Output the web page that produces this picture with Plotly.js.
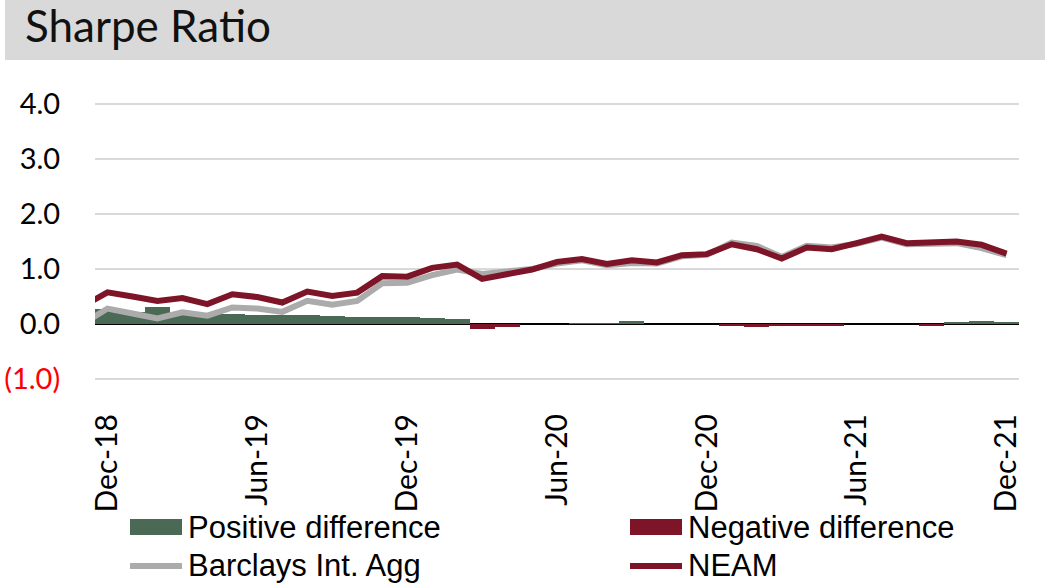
<!DOCTYPE html>
<html>
<head>
<meta charset="utf-8">
<script src="https://cdn.plot.ly/plotly-3.0.1.min.js"></script>
<style>html,body{margin:0;padding:0;background:#fff;}#chart{width:1045px;height:586px;}</style>
</head>
<body>
<div id="chart"></div>
<script>
// Monthly categories (Nov-18 lies just left of the visible range; the line enters from it)
const months = ['Nov-18','Dec-18','Jan-19','Feb-19','Mar-19','Apr-19','May-19','Jun-19','Jul-19','Aug-19','Sep-19','Oct-19','Nov-19','Dec-19',
  'Jan-20','Feb-20','Mar-20','Apr-20','May-20','Jun-20','Jul-20','Aug-20','Sep-20','Oct-20','Nov-20','Dec-20',
  'Jan-21','Feb-21','Mar-21','Apr-21','May-21','Jun-21','Jul-21','Aug-21','Sep-21','Oct-21','Nov-21','Dec-21'];
const neam = [0.32, 0.575, 0.50, 0.42, 0.47, 0.36, 0.54, 0.49, 0.39, 0.59, 0.51, 0.57, 0.87, 0.86,
  1.02, 1.08, 0.82, 0.91, 0.99, 1.13, 1.18, 1.09, 1.16, 1.12, 1.25, 1.27,
  1.45, 1.36, 1.19, 1.39, 1.36, 1.47, 1.59, 1.47, 1.48, 1.50, 1.44, 1.28];
const barclays = [0.00, 0.28, 0.19, 0.10, 0.21, 0.15, 0.30, 0.28, 0.22, 0.42, 0.35, 0.42, 0.74, 0.75,
  0.89, 0.99, 0.91, 0.96, 1.00, 1.10, 1.16, 1.07, 1.11, 1.10, 1.23, 1.26,
  1.48, 1.42, 1.22, 1.42, 1.39, 1.46, 1.57, 1.45, 1.47, 1.47, 1.38, 1.25];
const positiveDiff = [0.32, 0.27, 0.22, 0.30, 0.20, 0.18, 0.19, 0.17, 0.17, 0.17, 0.15, 0.12, 0.12, 0.12,
  0.11, 0.09, 0, 0, 0, 0, 0.02, 0.02, 0.05, 0, 0, 0,
  0, 0, 0, 0, 0, 0, 0, 0, 0, 0.03, 0.06, 0.03];
const negativeDiff = [0, 0, 0, 0, 0, 0, 0, 0, 0, 0, 0, 0, 0, 0,
  0, 0, -0.10, -0.05, 0, 0, 0, 0, 0, 0, 0, -0.01,
  -0.03, -0.06, -0.03, -0.03, -0.03, 0, 0, 0, -0.04, 0, 0, 0];
const xTicks = ['Dec-18','Jun-19','Dec-19','Jun-20','Dec-20','Jun-21','Dec-21'];
const yTickVals = [-1, 0, 1, 2, 3, 4];
const yTickText = ["<span style='color:#ff0000'>(1.0)</span>", '0.0', '1.0', '2.0', '3.0', '4.0'];
const seriesNames = ['Positive difference', 'Negative difference', 'Barclays Int. Agg', 'NEAM'];

const GREEN = '#4a6a55', RED = '#7e1427', GREY = '#ababab';
const W = 1045, H = 586, L = 95, R = 1019, T = 103, B = 380;
const px = x => (x - L) / (R - L);
const py = y => (B - y) / (B - T);

const traces = [
  {type:'bar', x: months, y: positiveDiff, name: seriesNames[0], marker:{color: GREEN}, showlegend:false, hoverinfo:'skip'},
  {type:'bar', x: months, y: negativeDiff, name: seriesNames[1], marker:{color: RED}, showlegend:false, hoverinfo:'skip'},
  {type:'scatter', mode:'lines', x: months, y: barclays, name: seriesNames[2], line:{color: GREY, width: 6}, showlegend:false, hoverinfo:'skip'},
  {type:'scatter', mode:'lines', x: months, y: neam, name: seriesNames[3], line:{color: RED, width: 6}, showlegend:false, hoverinfo:'skip'}
];

const legFont = {family:'Liberation Sans, Arial, sans-serif', size: 31, color:'#000'};
const layout = {
  width: W, height: H, autosize: false,
  margin: {l: L, r: W - R, t: T, b: H - B, pad: 0},
  paper_bgcolor: '#fff', plot_bgcolor: '#fff',
  barmode: 'relative', bargap: 0,
  title: {text: 'Sharpe Ratio', x: 25 / W, xanchor: 'left', xref: 'container', y: 1 - 27 / H, yanchor: 'middle', yref: 'container',
    font: {family: 'Lato, sans-serif', size: 44, color: '#111'}},
  xaxis: {type: 'category', categoryorder: 'array', categoryarray: months, range: [0.5, 37.5],
    tickmode: 'array', tickvals: xTicks, ticktext: xTicks, tickangle: -90,
    ticks: 'outside', ticklen: 21, tickcolor: 'rgba(0,0,0,0)',
    showgrid: false, showline: false, zeroline: false,
    tickfont: {family: 'Lato, sans-serif', size: 30, color: '#000'}},
  yaxis: {range: [-1.02, 4.02], tickmode: 'array', tickvals: yTickVals, ticktext: yTickText,
    ticks: 'outside', ticklen: 28, tickcolor: 'rgba(0,0,0,0)',
    showgrid: true, gridcolor: '#d9d9d9', gridwidth: 2,
    zeroline: true, zerolinecolor: '#000', zerolinewidth: 2, showline: false,
    tickfont: {family: 'Lato, sans-serif', size: 29, color: '#000'}},
  showlegend: false,
  shapes: [
    {type:'rect', xref:'paper', yref:'paper', x0: px(5), x1: px(1045), y0: py(60), y1: py(0), fillcolor:'#d9d9d9', line:{width:0}, layer:'below'},
    {type:'rect', xref:'paper', yref:'paper', x0: px(130), x1: px(182), y0: py(535), y1: py(519), fillcolor: GREEN, line:{width:0}},
    {type:'rect', xref:'paper', yref:'paper', x0: px(630), x1: px(682), y0: py(535), y1: py(519), fillcolor: RED, line:{width:0}},
    {type:'line', xref:'paper', yref:'paper', x0: px(130), x1: px(182), y0: py(566), y1: py(566), line:{color: GREY, width: 6}},
    {type:'line', xref:'paper', yref:'paper', x0: px(630), x1: px(682), y0: py(566), y1: py(566), line:{color: RED, width: 6}}
  ],
  annotations: [
    {xref:'paper', yref:'paper', x: px(186), y: py(527), xanchor:'left', yanchor:'middle', showarrow:false, text: seriesNames[0], font: legFont},
    {xref:'paper', yref:'paper', x: px(686), y: py(527), xanchor:'left', yanchor:'middle', showarrow:false, text: seriesNames[1], font: legFont},
    {xref:'paper', yref:'paper', x: px(186), y: py(565), xanchor:'left', yanchor:'middle', showarrow:false, text: seriesNames[2], font: legFont},
    {xref:'paper', yref:'paper', x: px(686), y: py(565), xanchor:'left', yanchor:'middle', showarrow:false, text: seriesNames[3], font: legFont}
  ]
};

Plotly.newPlot('chart', traces, layout, {staticPlot: true, displayModeBar: false});
</script>
</body>
</html>
